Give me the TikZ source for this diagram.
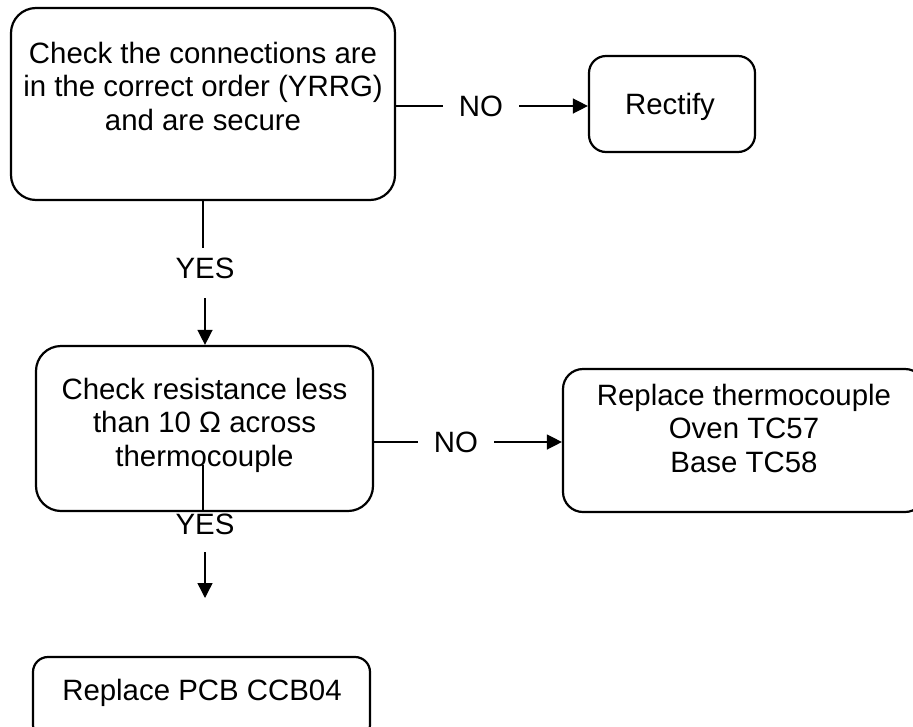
\documentclass[tikz,border=0pt]{standalone}
\usepackage{fontspec}
\setmainfont{Liberation Sans}
\usetikzlibrary{arrows.meta}

\tikzset{
  box/.style={draw, line width=2.2pt, rectangle, inner sep=0pt},
  txt/.style={font=\fontsize{29.4}{33.5}\selectfont, align=center, inner sep=0pt, anchor=base},
  cond/.style={font=\fontsize{29.4}{33.5}\selectfont, inner xsep=16pt, inner ysep=0pt, anchor=center},
  link/.style={line width=1.4pt},
  arr/.style={link, -{Triangle[length=15pt,width=15pt]}},
}

\begin{document}
\begin{tikzpicture}[x=1pt,y=-1pt]
  \useasboundingbox (0,0) rectangle (913,726);
  \clip (0,0) rectangle (913,726);

  % boxes (multi-line texts are placed by the baseline of their last line)
  \node[box, rounded corners=25pt, minimum width=384pt, minimum height=192pt] (b1) at (203,104) {};
  \node[txt] (t1) at (203,130) {Check the connections are\\in the correct order (YRRG)\\and are secure};

  \node[box, rounded corners=17pt, minimum width=166pt, minimum height=96pt] (r) at (672,104) {};
  \node[txt] (rt) at (670,114) {Rectify};

  \node[box, rounded corners=25pt, minimum width=337pt, minimum height=165pt] (b2) at (204.5,428.5) {};
  \node[txt] (t2) at (204.5,466) {Check resistance less\\than 10 Ω across\\thermocouple};

  \node[box, rounded corners=20pt, minimum width=362pt, minimum height=143pt] (b3) at (744,440.5) {};
  \node[txt] (t3) at (744,472) {Replace thermocouple\\Oven TC57\\Base TC58};

  \node[box, rounded corners=15pt, minimum width=337pt, minimum height=83pt] (b4) at (201.5,698.5) {};
  \node[txt] (t4) at (202,700) {Replace PCB CCB04};

  % NO branches
  \node[cond] (no1) at (481,106) {NO};
  \draw[link] (b1.east |- no1.west) -- (no1.west);
  \draw[arr] (no1.east) -- (r.west |- no1.east);

  \node[cond] (no2) at (456,442) {NO};
  \draw[link] (b2.east |- no2.west) -- (no2.west);
  \draw[arr] (no2.east) -- (b3.west |- no2.east);

  % YES branches
  \node[txt] (y1) at (205,278) {YES};
  \coordinate (c1) at (203,248);
  \coordinate (c2) at (205,298);
  \draw[link] (b1.south -| c1) -- (c1);
  \draw[arr] (c2) -- (c2 |- b2.north);

  \node[txt] (y2) at (205,534) {YES};
  \coordinate (c3) at (203,465);
  \coordinate (c4) at (205,552);
  \coordinate (c5) at (205,598);
  \draw[link] (c3) -- (c3 |- b2.south);
  \draw[arr] (c4) -- (c5);
\end{tikzpicture}
\end{document}
